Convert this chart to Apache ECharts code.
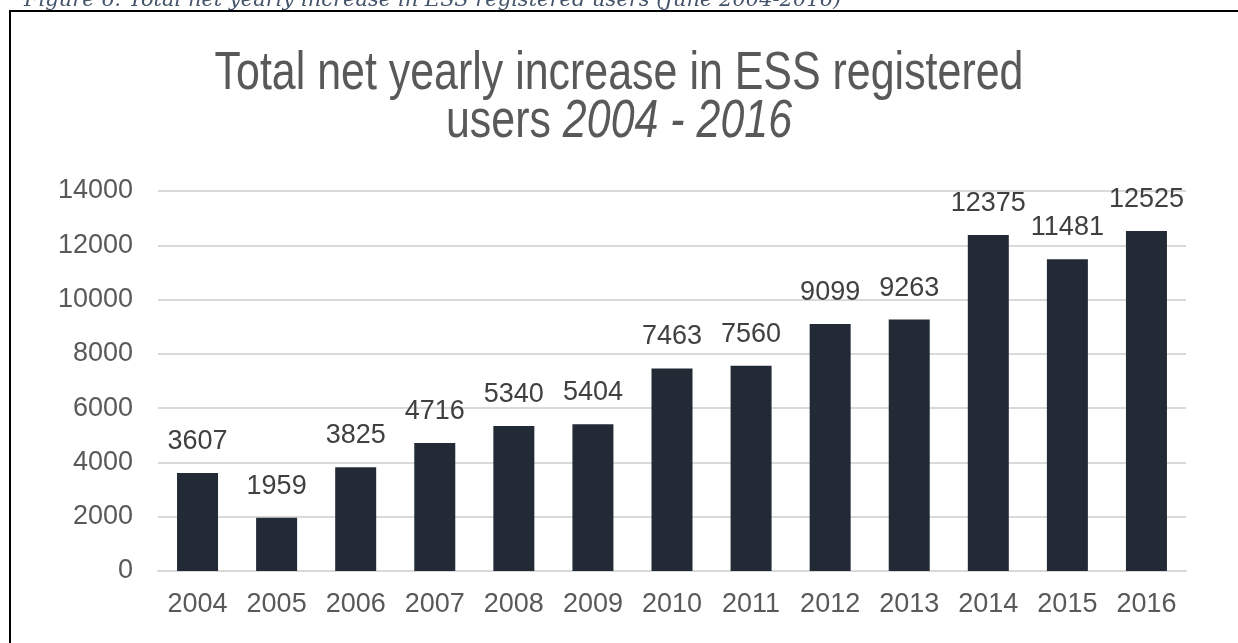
<!DOCTYPE html>
<html>
<head>
<meta charset="utf-8">
<script src="https://cdn.jsdelivr.net/npm/echarts@6/dist/echarts.min.js"></script>
<style>
  html, body { margin: 0; padding: 0; background: #ffffff; }
  #chart { width: 1238px; height: 643px; }
</style>
</head>
<body>
<div id="chart"></div>
<script>
// Registered-user growth per year
const years = ['2004', '2005', '2006', '2007', '2008', '2009', '2010', '2011', '2012', '2013', '2014', '2015', '2016'];
const netIncrease = [3607, 1959, 3825, 4716, 5340, 5404, 7463, 7560, 9099, 9263, 12375, 11481, 12525];
const yTicks = [0, 2000, 4000, 6000, 8000, 10000, 12000, 14000];

const caption = 'Figure 6: Total net yearly increase in ESS registered users (June 2004-2016)';
const titleLine1 = 'Total net yearly increase in ESS registered';
const titleLine2a = 'users ';
const titleLine2b = '2004 - 2016';

const chart = echarts.init(document.getElementById('chart'), null, { renderer: 'canvas' });

const axisGrey = '#595959';
const gridGrey = '#d9d9d9';
const sans = '"Liberation Sans", Arial, sans-serif';

chart.setOption({
  backgroundColor: '#ffffff',
  animation: false,
  graphic: [
    {
      // frame around the chart
      type: 'rect',
      shape: { x: 10, y: 11, width: 1400, height: 800 },
      style: { fill: 'none', stroke: '#000000', lineWidth: 2 },
      silent: true
    },
    {
      // figure caption above the frame
      type: 'text',
      x: 24,
      y: 11,
      style: {
        text: caption,
        font: 'italic 21px "DejaVu Serif", serif',
        fill: '#44546a',
        verticalAlign: 'bottom'
      },
      silent: true
    },
    {
      // condensed two-line chart title
      type: 'text',
      x: 619,
      y: 50,
      scaleX: 0.81,
      style: {
        text: '{n|' + titleLine1 + '}\n{n|' + titleLine2a + '}{i|' + titleLine2b + '}',
        align: 'center',
        verticalAlign: 'top',
        rich: {
          n: { fontFamily: sans, fontSize: 53, fontWeight: 'normal', fill: axisGrey, lineHeight: 48 },
          i: { fontFamily: sans, fontSize: 53, fontWeight: 'normal', fontStyle: 'italic', fill: axisGrey, lineHeight: 48 }
        }
      },
      silent: true
    }
  ],
  grid: { left: 158, right: 52, top: 191, bottom: 72, containLabel: false },
  xAxis: {
    type: 'category',
    data: years,
    axisLine: { show: true, lineStyle: { color: gridGrey, width: 2 } },
    axisTick: { show: false },
    axisLabel: { color: axisGrey, fontSize: 27, fontFamily: sans, margin: 20 }
  },
  yAxis: {
    type: 'value',
    min: yTicks[0],
    max: yTicks[yTicks.length - 1],
    interval: yTicks[1] - yTicks[0],
    axisLine: { show: false },
    axisTick: { show: false },
    splitLine: { lineStyle: { color: gridGrey, width: 2 } },
    axisLabel: {
      color: axisGrey,
      fontSize: 27,
      fontFamily: sans,
      margin: 25,
      formatter: function (v) { return String(v); }
    }
  },
  series: [{
    type: 'bar',
    data: netIncrease,
    barWidth: 41,
    itemStyle: { color: '#222a35' },
    label: {
      show: true,
      position: 'top',
      distance: 18,
      color: '#404040',
      fontSize: 27,
      fontFamily: sans
    }
  }]
});
</script>
</body>
</html>
